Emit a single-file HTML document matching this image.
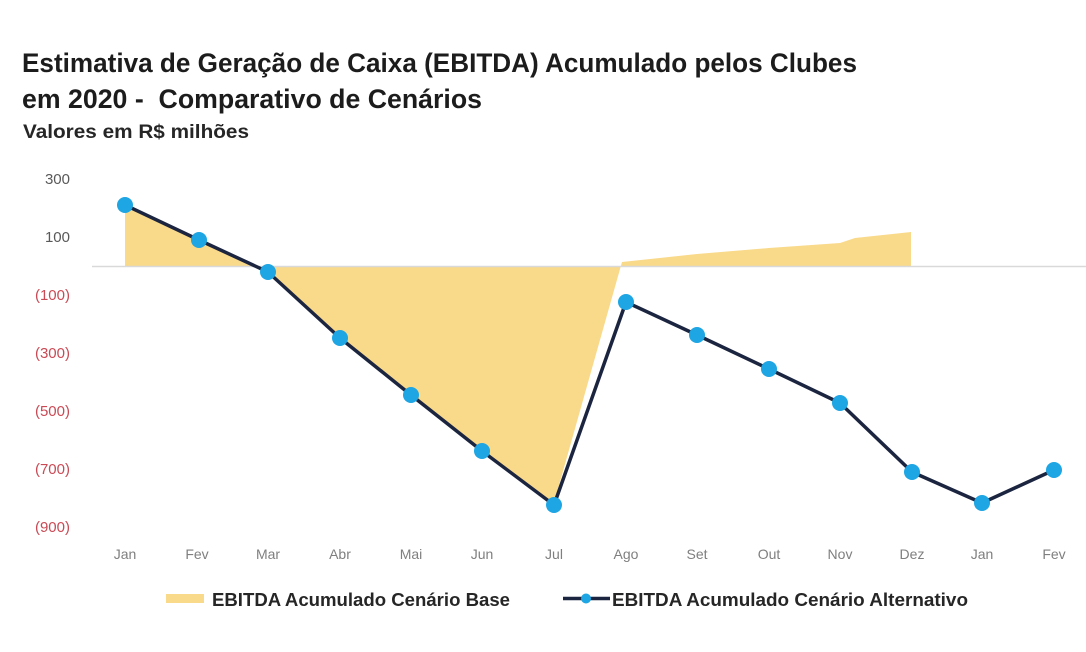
<!DOCTYPE html>
<html>
<head>
<meta charset="utf-8">
<style>
  html, body { margin: 0; padding: 0; background: #ffffff; }
  svg { display: block; }
  text { font-family: "Liberation Sans", "DejaVu Sans", sans-serif; }
</style>
</head>
<body>
<svg width="1086" height="652" viewBox="0 0 1086 652" xmlns="http://www.w3.org/2000/svg">
  <rect x="0" y="0" width="1086" height="652" fill="#ffffff"/>

  <!-- Titles -->
  <text x="22" y="72" font-size="27" font-weight="bold" fill="#1c1c1c" textLength="835" lengthAdjust="spacingAndGlyphs">Estimativa de Geração de Caixa (EBITDA) Acumulado pelos Clubes</text>
  <text x="22" y="108" font-size="27" font-weight="bold" fill="#1c1c1c" textLength="460" lengthAdjust="spacingAndGlyphs">em 2020 -&#160; Comparativo de Cenários</text>
  <text x="23" y="138" font-size="19" font-weight="bold" fill="#262626" textLength="226" lengthAdjust="spacingAndGlyphs">Valores em R$ milhões</text>

  <!-- Y axis labels -->
  <g font-size="15" text-anchor="end">
    <text x="70" y="184" fill="#595959">300</text>
    <text x="70" y="242" fill="#595959">100</text>
    <text x="70" y="300" fill="#c94a55">(100)</text>
    <text x="70" y="358" fill="#c94a55">(300)</text>
    <text x="70" y="416" fill="#c94a55">(500)</text>
    <text x="70" y="474" fill="#c94a55">(700)</text>
    <text x="70" y="532" fill="#c94a55">(900)</text>
  </g>

  <!-- Area series (Cenário Base) -->
  <polygon fill="#f9d98a" points="125,266 125,205 199,240 268,272 340,338 411,395 482,451 554,503 622,262 697,254 769,248 840,243 855,238 911,232 911,266"/>

  <!-- zero line -->
  <line x1="92" y1="266.5" x2="1086" y2="266.5" stroke="#d9d9d9" stroke-width="1.5"/>

  <!-- Line series (Cenário Alternativo) -->
  <polyline fill="none" stroke="#1c2540" stroke-width="3.5" stroke-linejoin="round"
    points="125,205 199,240 268,272 340,338 411,395 482,451 554,505 626,302 697,335 769,369 840,403 912,472 982,503 1054,470"/>
  <g fill="#1ea5e3">
    <circle cx="125" cy="205" r="8"/>
    <circle cx="199" cy="240" r="8"/>
    <circle cx="268" cy="272" r="8"/>
    <circle cx="340" cy="338" r="8"/>
    <circle cx="411" cy="395" r="8"/>
    <circle cx="482" cy="451" r="8"/>
    <circle cx="554" cy="505" r="8"/>
    <circle cx="626" cy="302" r="8"/>
    <circle cx="697" cy="335" r="8"/>
    <circle cx="769" cy="369" r="8"/>
    <circle cx="840" cy="403" r="8"/>
    <circle cx="912" cy="472" r="8"/>
    <circle cx="982" cy="503" r="8"/>
    <circle cx="1054" cy="470" r="8"/>
  </g>

  <!-- X axis labels -->
  <g font-size="14" fill="#7f7f7f" text-anchor="middle">
    <text x="125" y="559">Jan</text>
    <text x="197" y="559">Fev</text>
    <text x="268" y="559">Mar</text>
    <text x="340" y="559">Abr</text>
    <text x="411" y="559">Mai</text>
    <text x="482" y="559">Jun</text>
    <text x="554" y="559">Jul</text>
    <text x="626" y="559">Ago</text>
    <text x="697" y="559">Set</text>
    <text x="769" y="559">Out</text>
    <text x="840" y="559">Nov</text>
    <text x="912" y="559">Dez</text>
    <text x="982" y="559">Jan</text>
    <text x="1054" y="559">Fev</text>
  </g>

  <!-- Legend -->
  <rect x="166" y="594" width="38" height="9" fill="#f9d98a"/>
  <text x="212" y="606" font-size="18" font-weight="bold" fill="#262626" textLength="298" lengthAdjust="spacingAndGlyphs">EBITDA Acumulado Cenário Base</text>

  <line x1="563" y1="598.5" x2="610" y2="598.5" stroke="#1c2540" stroke-width="3.5"/>
  <circle cx="586" cy="598.5" r="5" fill="#1ea5e3"/>
  <text x="612" y="606" font-size="18" font-weight="bold" fill="#262626" textLength="356" lengthAdjust="spacingAndGlyphs">EBITDA Acumulado Cenário Alternativo</text>
</svg>
</body>
</html>
